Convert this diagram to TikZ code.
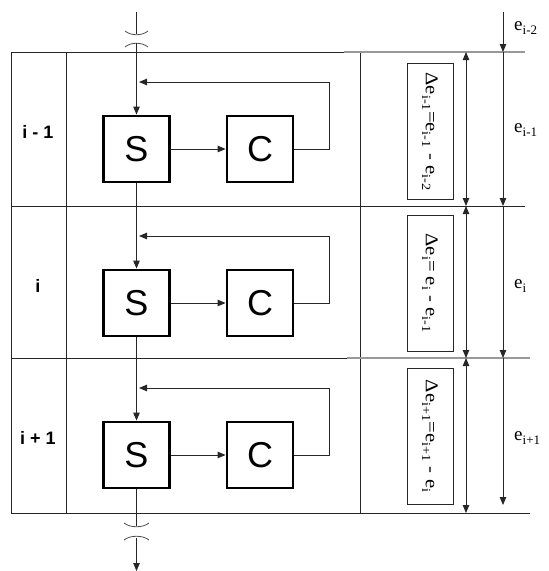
\documentclass[tikz,border=0pt]{standalone}
\usepackage{fontspec}
\setmainfont{Liberation Sans}
\newfontfamily\tms{Liberation Serif}
\usetikzlibrary{arrows.meta}
\newcommand\sbx[1]{\raisebox{-0.45ex}{\fontsize{12.5}{12.5}\selectfont #1}}
\newcommand\sbe[1]{\raisebox{-0.45ex}{\fontsize{13}{13}\selectfont #1}}
\begin{document}
\begin{tikzpicture}[x=1pt,y=-1pt,
  thin line/.style={draw=black!85,line width=0.9pt},
  blockbox/.style={draw=black,line width=2.8pt,minimum width=66pt,minimum height=66pt,inner sep=0pt,font=\fontsize{36}{36}\selectfont},
  arr/.style={thin line,-{Triangle[length=8pt,width=6.5pt]}},
  darr/.style={thin line,{Triangle[length=8pt,width=6.5pt]}-{Triangle[length=8pt,width=6.5pt]}},
  graylin/.style={draw=black!40,line width=1.2pt},
  brk/.style={draw=black!70,line width=0.8pt},
  rowlab/.style={font=\bfseries\fontsize{18}{18}\selectfont},
  dbox/.style={draw=black!85,line width=0.9pt,rotate=-90,minimum width=136pt,minimum height=46pt,inner sep=0pt,font=\tms\fontsize{18}{18}\selectfont},
  elab/.style={anchor=west,inner sep=0pt,font=\tms\fontsize{19}{19}\selectfont}]
\useasboundingbox (0,0) rectangle (549,571);
% left frame
\draw[thin line] (11,52) rectangle (360,513);
\draw[thin line] (11,206) -- (360,206);
\draw[thin line] (11,358) -- (360,358);
\draw[thin line] (66,52) -- (66,513);
% right lines
\draw[graylin] (344,52) -- (525,52);
\draw[thin line] (347,206) -- (525,206);
\draw[graylin] (347,358) -- (530,358);
\draw[thin line] (347,513) -- (530,513);
% rows
\foreach \n/\t/\lab in {1/52/{i - 1},2/206/i,3/358/{i + 1}}{
  \node[blockbox] (S\n) at (136.5,{\t+97}) {S};
  \node[blockbox] (C\n) at (260,{\t+97}) {C};
  \node[rowlab] (L\n) at (38,{\t+80}) {\lab};
  \coordinate (fb\n) at (329,{\t+30});
  \coordinate (fe\n) at (139,{\t+30});
  \draw[arr] (S\n.east) -- (C\n.west);
  \draw[thin line] (C\n.east) -| (fb\n);
  \draw[arr] (fb\n) -- (fe\n);
}
% vertical flow
\coordinate (in0) at (136.5,12);
\coordinate (in1) at (136.5,34);
\coordinate (in2) at (136.5,43);
\draw[thin line] (in0) -- (in1);
\draw[brk] (125,31) .. controls (131,36) and (142,36) .. (148,31);
\draw[brk] (125,47) .. controls (131,42) and (142,42) .. (148,47);
\draw[arr] (in2) -- (S1.north);
\draw[arr] (S1.south) -- (S2.north);
\draw[arr] (S2.south) -- (S3.north);
\coordinate (out1) at (136.5,526);
\coordinate (out2) at (136.5,538);
\coordinate (out3) at (136.5,571);
\draw[thin line] (S3.south) -- (out1);
\draw[brk] (124,523) .. controls (130,528) and (143,528) .. (149,523);
\draw[brk] (124,540) .. controls (130,535) and (143,535) .. (149,540);
\draw[arr] (out2) -- (out3);
% delta boxes
\node[dbox] (D1) at (430,131.5) {\scalebox{1.15}[1]{Δe\sbx{i-1}=e\sbx{i-1} - e\sbx{i-2}}};
\node[dbox] (D2) at (430,283) {\scalebox{1.15}[1]{Δe\sbx{i}= e\sbx{i} - e\sbx{i-1}}};
\node[dbox] (D3) at (430,436) {\scalebox{1.15}[1]{Δe\sbx{i+1}=e\sbx{i+1} - e\sbx{i}}};
% right arrows
\coordinate (a0) at (466,52);
\coordinate (a1) at (466,206);
\coordinate (a2) at (466,358);
\coordinate (a3) at (466,513);
\draw[darr] (a0) -- (a1);
\draw[darr] (a1) -- (a2);
\draw[darr] (a2) -- (a3);
\coordinate (b0) at (503,12);
\coordinate (b1) at (503,52);
\coordinate (b2) at (503,206);
\coordinate (b3) at (503,358);
\coordinate (b4) at (503,505);
\draw[arr] (b0) -- (b1);
\draw[arr] (b1) -- (b2);
\draw[arr] (b2) -- (b3);
\draw[arr] (b3) -- (b4);
\node[elab] (E0) at (514,28) {e\sbe{i-2}};
\node[elab] (E1) at (514,130) {e\sbe{i-1}};
\node[elab] (E2) at (514,286) {e\sbe{i}};
\node[elab] (E3) at (514,438) {e\sbe{i+1}};
\end{tikzpicture}
\end{document}
